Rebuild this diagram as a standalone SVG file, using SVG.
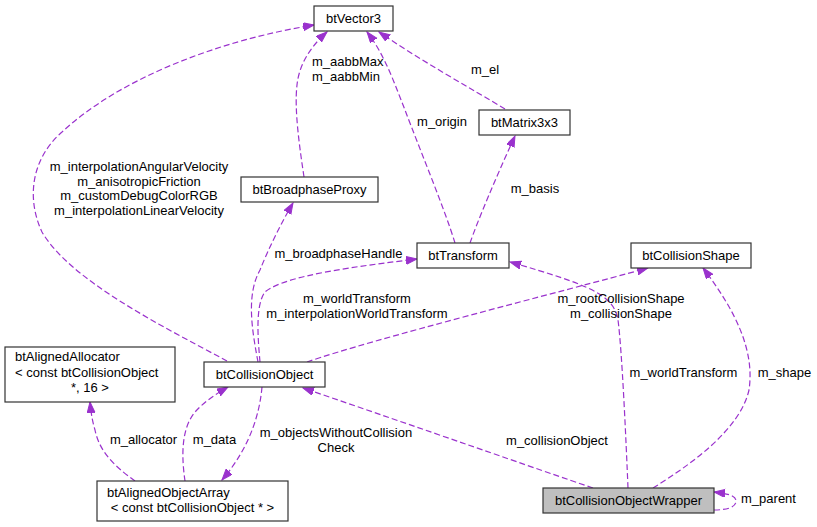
<svg xmlns="http://www.w3.org/2000/svg" width="817" height="527" viewBox="0 0 817 527">
<style>
.n rect{fill:#ffffff;stroke:#333333;stroke-width:1.2}
.n text,.l text{font-family:"Liberation Sans",Arial,sans-serif;font-size:13px;fill:#000}
.n text{text-anchor:middle}
.e path{fill:none;stroke:#9a32cd;stroke-width:1.2;stroke-dasharray:6,3;marker-end:url(#a)}
.l text{text-anchor:middle}
</style>
<defs>
<marker id="a" markerUnits="userSpaceOnUse" markerWidth="12" markerHeight="9" refX="11" refY="4" orient="auto">
<path d="M0,0 L11,4 L0,8 z" fill="#9a32cd" stroke="#9a32cd"/>
</marker>
</defs>
<rect width="817" height="527" fill="#ffffff"/>
<g class="e" id="edges">
<path d="M227,361 C160,325 70,280 42,232 C27,200 30,160 62,132 C120,78 220,40 314,25"/>
<path d="M304,177 C300,150 294,110 297,85 C299,65 310,47 327,32"/>
<path d="M455,243 C445,210 420,150 405,110 C395,85 385,55 367,32"/>
<path d="M505,109 C470,88 420,60 379,32"/>
<path d="M470,243 C478,220 497,175 515,136"/>
<path d="M258,362 C252,330 246,295 260,270 C268,250 280,225 293,203"/>
<path d="M260,362 C258,340 255,305 265,292 C285,275 360,266 417,259"/>
<path d="M307,362 C370,340 560,292 648,268"/>
<path d="M628,488 C626,440 622,350 618,320 C614,295 590,285 510,262"/>
<path d="M653,488 C690,465 740,430 749,390 C755,350 735,310 703,268"/>
<path d="M593,488 C540,470 420,428 303,388"/>
<path d="M714,510 C725,510 736,508 736,501 C736,496 730,494 714,492"/>
<path d="M262,387 C260,410 252,445 222,480"/>
<path d="M185,481 C182,460 180,430 195,412 C203,403 214,395 228,387"/>
<path d="M135,481 C120,470 100,455 95,430 C92,420 91,412 90,402"/>
</g>
<g class="l" id="labels">
<text x="139" y="171">m_interpolationAngularVelocity</text>
<text x="139" y="185.5">m_anisotropicFriction</text>
<text x="139" y="200">m_customDebugColorRGB</text>
<text x="139" y="214.5">m_interpolationLinearVelocity</text>
<text x="312" y="66" style="text-anchor:start">m_aabbMax</text>
<text x="312" y="80.5" style="text-anchor:start">m_aabbMin</text>
<text x="442" y="126">m_origin</text>
<text x="485" y="74">m_el</text>
<text x="535" y="193">m_basis</text>
<text x="338.5" y="258">m_broadphaseHandle</text>
<text x="357" y="303">m_worldTransform</text>
<text x="357" y="318">m_interpolationWorldTransform</text>
<text x="621" y="303">m_rootCollisionShape</text>
<text x="621" y="318">m_collisionShape</text>
<text x="683.5" y="377">m_worldTransform</text>
<text x="784.5" y="377">m_shape</text>
<text x="557" y="445">m_collisionObject</text>
<text x="768.5" y="503">m_parent</text>
<text x="336" y="437">m_objectsWithoutCollision</text>
<text x="336" y="452">Check</text>
<text x="214.5" y="444">m_data</text>
<text x="143.5" y="444">m_allocator</text>
</g>
<g class="n" id="btVector3"><rect x="314" y="6" width="79" height="25"/><text x="353.5" y="22.5">btVector3</text></g>
<g class="n" id="btBroadphaseProxy"><rect x="241" y="177" width="137" height="25"/><text x="309.5" y="193.5">btBroadphaseProxy</text></g>
<g class="n" id="btMatrix3x3"><rect x="479" y="110" width="91" height="25"/><text x="524.5" y="126.5">btMatrix3x3</text></g>
<g class="n" id="btTransform"><rect x="417" y="243" width="92" height="25"/><text x="463" y="259.5">btTransform</text></g>
<g class="n" id="btCollisionShape"><rect x="631" y="243" width="120" height="25"/><text x="691" y="259.5">btCollisionShape</text></g>
<g class="n" id="btCollisionObject"><rect x="204" y="362" width="121" height="25"/><text x="264.5" y="378.5">btCollisionObject</text></g>
<g class="n" id="btAlignedAllocator"><rect x="5" y="347" width="170" height="55"/><text x="15" y="361" style="text-anchor:start">btAlignedAllocator</text><text x="15" y="376.5" style="text-anchor:start">&lt; const btCollisionObject</text><text x="90" y="392">*, 16 &gt;</text></g>
<g class="n" id="btAlignedObjectArray"><rect x="97" y="481" width="191" height="40"/><text x="107" y="497" style="text-anchor:start">btAlignedObjectArray</text><text x="192.5" y="511.5">&lt; const btCollisionObject * &gt;</text></g>
<g class="n" id="btCollisionObjectWrapper"><rect x="543" y="488" width="171" height="25" style="fill:#bfbfbf"/><text x="628.5" y="504.5">btCollisionObjectWrapper</text></g>
</svg>
